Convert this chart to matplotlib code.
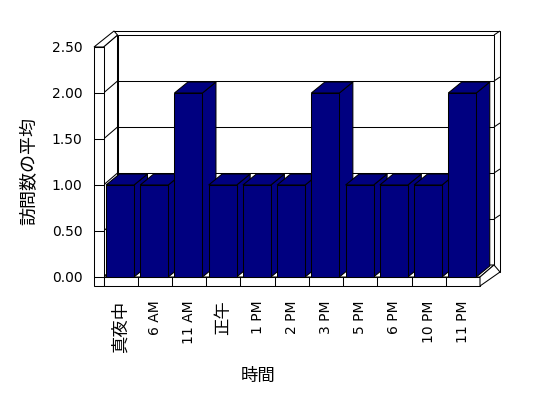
import matplotlib
matplotlib.use("Agg")
import matplotlib.pyplot as plt
from matplotlib.patches import Polygon

# ---- data ----
categories = ["真夜中", "6 AM", "11 AM", "正午", "1 PM", "2 PM", "3 PM", "5 PM", "6 PM", "10 PM", "11 PM"]
values = [1.0, 1.0, 2.0, 1.0, 1.0, 1.0, 2.0, 1.0, 1.0, 1.0, 2.0]
y_ticks = [0.0, 0.5, 1.0, 1.5, 2.0, 2.5]
y_tick_labels = ["0.00", "0.50", "1.00", "1.50", "2.00", "2.50"]
x_title = "時間"
y_title = "訪問数の平均"

BAR = "#000080"
W, H = 548, 398
fig = plt.figure(figsize=(W / 100, H / 100), dpi=100)
fig.patch.set_facecolor("white")

# front plane of the 3-D box (pixels)
px_left, px_right, px_bottom, px_top = 103.5, 480.0, 277.0, 47.0
ax = fig.add_axes([px_left / W, (H - px_bottom) / H, (px_right - px_left) / W, (px_bottom - px_top) / H])
n = len(categories)
ymax = 2.5
ax.set_xlim(0, n)
ax.set_ylim(0, ymax)
ax.patch.set_alpha(0)
for s in ax.spines.values():
    s.set_visible(False)

ppx = (px_right - px_left) / n      # pixels per category
ppy = (px_bottom - px_top) / ymax   # pixels per value unit
def dxu(p):
    return p / ppx
def dyu(p):
    return p / ppy

# depth offsets
DX, DY = dxu(14), dyu(12)
BDX, BDY = dxu(13.5), dyu(11)
wall_t = dxu(9.5)
floor_t = dyu(9)
ox_l, oy_t = dxu(10.5), dyu(16)     # outer back wall left / top
ox_r, oy_b = dxu(20), dyu(5)        # outer back wall right / bottom

lw = 0.75
def poly(pts, fc="white", z=1):
    ax.add_patch(Polygon(pts, closed=True, facecolor=fc, edgecolor="black",
                         linewidth=lw, clip_on=False, zorder=z, joinstyle="miter"))
def line(xs, ys, z=2):
    ax.plot(xs, ys, color="black", linewidth=lw, clip_on=False, zorder=z, solid_capstyle="butt")

# back wall (outer + inner)
poly([(ox_l, oy_b), (n + ox_r, oy_b), (n + ox_r, ymax + oy_t), (ox_l, ymax + oy_t)])
poly([(DX, DY), (n + DX, DY), (n + DX, ymax + DY), (DX, ymax + DY)])
line([n + DX, n + ox_r], [ymax + DY, ymax + oy_t])
# gridlines
for v in y_ticks[1:-1]:
    line([DX, n + DX], [v + DY, v + DY])
    line([n + DX, n + ox_r], [v + DY, v + DY + dyu(4)])
# left wall inner face
poly([(0, 0), (0, ymax), (DX, ymax + DY), (DX, DY)], z=1.5)
for v in y_ticks[1:-1]:
    line([0, DX], [v, v + DY], z=1.6)
# left wall top and front face
poly([(-wall_t, ymax), (0, ymax), (DX, ymax + DY), (ox_l, ymax + oy_t)], z=1.7)
poly([(-wall_t, -floor_t), (0, -floor_t), (0, ymax), (-wall_t, ymax)], z=1.7)
for v in y_ticks:
    line([-wall_t, 0], [v, v], z=1.8)
# floor
poly([(0, 0), (n, 0), (n + DX, DY), (DX, DY)], z=1.5)
poly([(0, -floor_t), (n, -floor_t), (n, 0), (0, 0)], z=1.7)
poly([(n, -floor_t), (n, 0), (n + DX, DY), (n + ox_r, oy_b)], z=1.7)
for i in range(1, n):
    line([i, i], [-floor_t, 0], z=1.8)

# bars
bar_off, bar_w = dxu(2.5), dxu(28)
for i, v in enumerate(values):
    xl = i + bar_off
    xr = xl + bar_w
    z = 3 + i * 0.01
    poly([(xr, 0), (xr + BDX, BDY), (xr + BDX, v + BDY), (xr, v)], fc=BAR, z=z)
    poly([(xl, v), (xr, v), (xr + BDX, v + BDY), (xl + BDX, v + BDY)], fc=BAR, z=z)
    poly([(xl, 0), (xr, 0), (xr, v), (xl, v)], fc=BAR, z=z + 0.001)

# ticks & labels
latin = ["DejaVu Sans", "Noto Sans CJK JP"]
cjk = ["Noto Sans CJK JP", "DejaVu Sans"]
ax.set_yticks(y_ticks)
ax.set_yticklabels(y_tick_labels, family=latin, fontsize=10)
ax.tick_params(axis="y", length=0, pad=(px_left - 82.5) * 0.72)
ax.set_xticks([i + 0.5 for i in range(n)])
ax.set_xticklabels(categories, rotation=90)
ax.tick_params(axis="x", length=0, pad=(300.5 - px_bottom) * 0.72)
for t in ax.get_xticklabels():
    if t.get_text().isascii():
        t.set_family(latin)
        t.set_fontsize(10)
    else:
        t.set_family(cjk)
        t.set_fontsize(12.5)

fig.text(29 / W, 1 - 171 / H, y_title, rotation=90, ha="center", va="center",
         family=cjk, fontsize=13)
fig.text(258 / W, 1 - 376 / H, x_title, ha="center", va="center",
         family=cjk, fontsize=12.5)

fig.savefig("out.png", dpi=100, facecolor="white")
